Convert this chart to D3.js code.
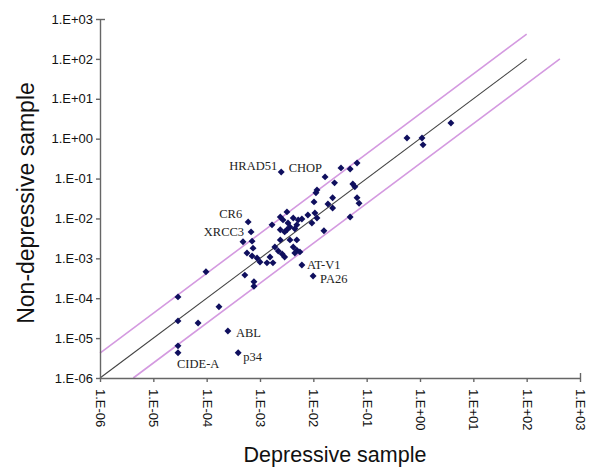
<!DOCTYPE html>
<html>
<head>
<meta charset="utf-8">
<script src="https://cdn.jsdelivr.net/npm/d3@7"></script>
<style>
  body { margin: 0; background: #fff; }
  svg { display: block; }
</style>
</head>
<body>
<div id="chart"></div>
<script>
const width = 592;
const height = 468;
const margin = { top: 19, right: 12, bottom: 90, left: 100 };

// Expression levels
const depressive = [
  2.9e-5, 2.9e-5, 6.9e-5, 2.9e-5, 2.9e-5, 9.7e-5, 1.7e-4, 2.5e-4, 3.9e-4, 5.2e-4,
  7.7e-4, 7.7e-4, 4.8e-4, 7.1e-4, 7.4e-4, 5.7e-4, 7.1e-4, 8.8e-4, 1.0e-3, 1.35e-3,
  1.75e-3, 1.54e-3, 6.0e-4, 6.8e-4, 1.68e-3, 2.4e-3, 2.7e-3, 3.2e-3, 3.35e-3, 3.2e-3,
  2.4e-3, 2.9e-3, 3.65e-3, 4.2e-3, 5.2e-3, 6.1e-3, 4.9e-3, 4.5e-3, 7.9e-3, 9.4e-3,
  1.07e-2, 1.17e-2, 1.9e-3, 2.2e-3, 2.6e-3, 2.9e-3, 4.2e-3, 4.9e-3, 5.6e-3, 4.5e-3,
  3.65e-3, 4.9e-3, 2.4e-3, 6.1e-3, 9.9e-3, 2.5e-3, 1.66e-2, 3.3e-2, 4.9e-2, 6.6e-2,
  2.5e-2, 5.5e-2, 6.0e-2, 1.17e-2, 1.12e-2, 1.03e-2, 1.88e-2, 2.3e-2, 2.3e-2, 6.6e-2,
  7.2e-2, 4.9e-2, 1.58e-2, 0.57, 1.09, 1.14, 3.8
];
const nonDepressive = [
  1.08e-4, 2.7e-5, 2.4e-5, 6.4e-6, 4.3e-6, 4.6e-4, 6.1e-5, 1.5e-5, 4.3e-6, 3.8e-4,
  2.6e-4, 2.0e-4, 2.6e-3, 2.7e-3, 1.8e-3, 1.36e-3, 1.15e-3, 1.02e-3, 8.1e-4, 7.7e-4,
  7.7e-4, 1.08e-3, 8.2e-3, 4.6e-3, 6.9e-3, 1.09e-2, 9.2e-3, 1.46e-2, 7.7e-3, 5.2e-3,
  5.2e-3, 4.6e-3, 6.1e-3, 1.03e-2, 9.2e-3, 9.7e-3, 6.9e-3, 5.5e-3, 1.22e-2, 7.7e-3,
  1.37e-2, 1.03e-2, 1.93e-3, 1.53e-3, 1.29e-3, 1.08e-3, 1.93e-3, 1.6e-3, 1.45e-3, 1.36e-3,
  2.9e-3, 2.9e-3, 2.9e-3, 6.8e-4, 3.6e-4, 0.146, 0.110, 0.185, 0.174, 0.246,
  7.8e-2, 7.3e-2, 6.2e-2, 5.2e-2, 4.4e-2, 2.6e-2, 2.3e-2, 3.3e-2, 1.83e-2, 3.3e-2,
  2.4e-2, 1.09e-2, 4.9e-3, 1.04, 1.04, 0.70, 2.47
];

// Named genes: index into the arrays above
const geneNames = ["HRAD51", "CHOP", "CR6", "XRCC3", "AT-V1", "PA26", "ABL", "p34", "CIDE-A"];
const geneIndex = [55, 56, 22, 23, 53, 54, 7, 8, 4];
const geneAnchor = ["end", "end", "end", "end", "start", "start", "start", "start", "start"];
const geneOffset = [[-4, -2], [-3, -5], [-6, -4], [-7, 4], [5, 4], [7, 7], [8, 6], [5, 8], [-1, 15]];

const tickValues = [1e-6, 1e-5, 1e-4, 1e-3, 1e-2, 1e-1, 1e0, 1e1, 1e2, 1e3];
const foldLimit = 4.2;

const fmt = v => {
  const e = Math.round(Math.log10(v));
  return "1.E" + (e < 0 ? "-" : "+") + String(Math.abs(e)).padStart(2, "0");
};

const svg = d3.select("#chart")
  .append("svg")
  .attr("width", width)
  .attr("height", height);

svg.append("rect").attr("width", width).attr("height", height).attr("fill", "#fff");

const x = d3.scaleLog()
  .domain([1e-6, 1e3])
  .range([margin.left, width - margin.right]);

const y = d3.scaleLog()
  .domain([1e-6, 1e3])
  .range([height - margin.bottom, margin.top]);

// Reference lines: equal expression and fold limits
const line = d3.line().x(d => x(d[0])).y(d => y(d[1]));

svg.append("path")
  .attr("d", line([[1e-6, 1e-6], [1e2, 1e2]]))
  .attr("fill", "none")
  .attr("stroke", "#444")
  .attr("stroke-width", 1.1);

svg.append("path")
  .attr("d", line([[1e-6, 1e-6 * foldLimit], [1e2, 1e2 * foldLimit]]))
  .attr("fill", "none")
  .attr("stroke", "#d49ae0")
  .attr("stroke-width", 1.6);

svg.append("path")
  .attr("d", line([[1e-6 * foldLimit, 1e-6], [1e2 * foldLimit, 1e2]]))
  .attr("fill", "none")
  .attr("stroke", "#d49ae0")
  .attr("stroke-width", 1.6);

// Axes
const xAxis = svg.append("g")
  .attr("transform", `translate(0,${height - margin.bottom})`)
  .call(d3.axisBottom(x).tickValues(tickValues).tickFormat(fmt).tickSize(4).tickSizeOuter(0));

xAxis.selectAll("text")
  .attr("transform", "rotate(90)")
  .attr("x", 11)
  .attr("y", 0)
  .attr("dy", "0.35em")
  .attr("text-anchor", "start");

const yAxis = svg.append("g")
  .attr("transform", `translate(${margin.left},0)`)
  .call(d3.axisLeft(y).tickValues(tickValues).tickFormat(fmt).tickSize(4).tickSizeOuter(0));

// small caps at the far ends of both axes
svg.append("g")
  .attr("transform", `translate(${margin.left},0)`)
  .call(d3.axisRight(y).tickValues([1e3]).tickFormat("").tickSize(5))
  .select(".domain").remove();

svg.append("g")
  .attr("transform", `translate(0,${height - margin.bottom})`)
  .call(d3.axisTop(x).tickValues([1e3]).tickFormat("").tickSize(5))
  .select(".domain").remove();

svg.selectAll(".domain, .tick line")
  .attr("stroke", "#666")
  .attr("stroke-width", 1.4);

svg.selectAll(".tick text")
  .attr("font-family", "Liberation Sans, Arial, sans-serif")
  .attr("font-size", "13px")
  .attr("fill", "#111");

// Points
svg.append("g")
  .selectAll("path")
  .data(depressive.map((d, i) => [d, nonDepressive[i]]))
  .join("path")
  .attr("d", d3.symbol(d3.symbolSquare, 24))
  .attr("transform", d => `translate(${x(d[0])},${y(d[1])}) rotate(45)`)
  .attr("fill", "#0f0f5e");

// Gene labels
svg.append("g")
  .selectAll("text")
  .data(geneNames)
  .join("text")
  .attr("x", (d, i) => x(depressive[geneIndex[i]]) + geneOffset[i][0])
  .attr("y", (d, i) => y(nonDepressive[geneIndex[i]]) + geneOffset[i][1])
  .attr("text-anchor", (d, i) => geneAnchor[i])
  .attr("font-family", "Liberation Serif, Times New Roman, serif")
  .attr("font-size", "12.5px")
  .attr("fill", "#222")
  .text(d => d);

// Axis titles
svg.append("text")
  .attr("x", 335)
  .attr("y", 462)
  .attr("text-anchor", "middle")
  .attr("font-family", "Liberation Sans, Arial, sans-serif")
  .attr("font-size", "21.5px")
  .attr("fill", "#111")
  .text("Depressive sample");

svg.append("text")
  .attr("transform", "rotate(-90)")
  .attr("x", -203)
  .attr("y", 34)
  .attr("text-anchor", "middle")
  .attr("font-family", "Liberation Sans, Arial, sans-serif")
  .attr("font-size", "23px")
  .attr("fill", "#111")
  .text("Non-depressive sample");
</script>
</body>
</html>
